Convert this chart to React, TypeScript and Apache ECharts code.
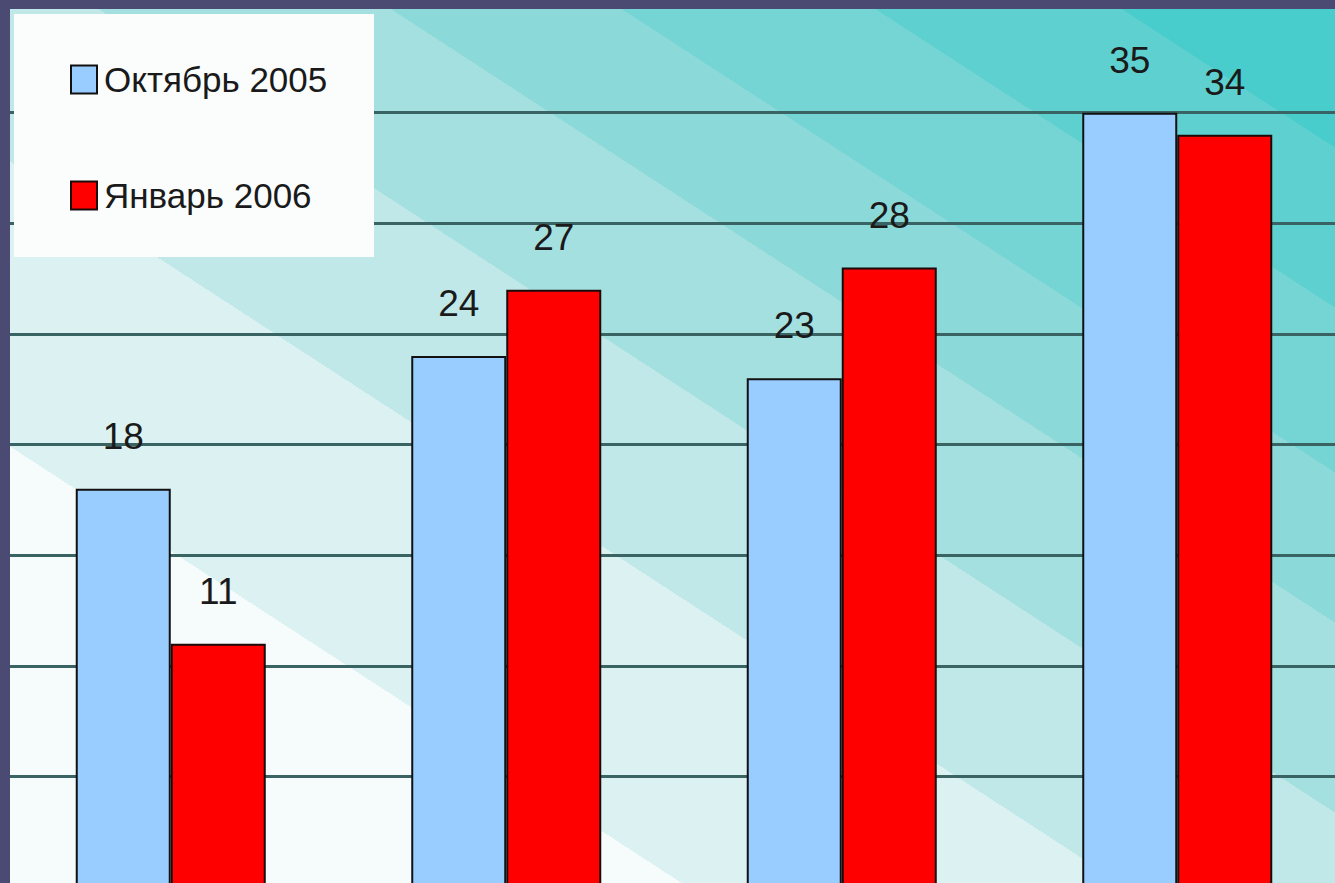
import React, { useEffect, useRef } from "react";
import * as echarts from "echarts";

const categories = ["I", "II", "III", "IV"];
const seriesNames = ["Октябрь 2005", "Январь 2006"];
const oct2005 = [18, 24, 23, 35];
const jan2006 = [11, 27, 28, 34];
const yTicks = { min: 0, max: 40, interval: 5 };

// background stripe bands (c = y - 0.65x boundaries) and colours, white -> teal
const bandBounds = [440, 155, -55, -245, -395, -560, -720];
const bandColors = ["#f6fbfb", "#dcf1f1", "#c0e8e8", "#a5e0e0", "#8bd9d9", "#75d4d4", "#5fd0d0", "#49cccc"];

function buildStops() {
  const c0 = 883;
  const range = 1751;
  const stops: { offset: number; color: string }[] = [];
  stops.push({ offset: 0, color: bandColors[0] });
  bandBounds.forEach((b, i) => {
    const f = (c0 - b) / range;
    stops.push({ offset: f, color: bandColors[i] });
    stops.push({ offset: f, color: bandColors[i + 1] });
  });
  stops.push({ offset: 1, color: bandColors[bandColors.length - 1] });
  return stops;
}

export default function App() {
  const ref = useRef<HTMLDivElement>(null);
  useEffect(() => {
    if (!ref.current) return;
    const chart = echarts.init(ref.current, null, { renderer: "svg" });
    const font = "'Liberation Sans', Arial, sans-serif";
    const labelStyle = {
      show: true,
      position: "top",
      distance: 34,
      fontSize: 37,
      color: "#1a1a1a",
      fontFamily: font,
    };
    chart.setOption({
      animation: false,
      backgroundColor: "#4a4a72",
      graphic: [
        {
          type: "rect",
          z: -10,
          shape: { x: 10, y: 9, width: 1340, height: 881 },
          style: {
            fill: new echarts.graphic.LinearGradient(0, 883, 800, -348, buildStops(), true),
          },
        },
        {
          type: "rect",
          z: 5,
          shape: { x: 14, y: 14, width: 360, height: 243 },
          style: { fill: "#fbfdfd" },
        },
        {
          type: "rect",
          z: 100,
          shape: { x: 0, y: 0, width: 1350, height: 9 },
          style: { fill: "#4a4a72" },
        },
        {
          type: "rect",
          z: 100,
          shape: { x: 0, y: 0, width: 10, height: 890 },
          style: { fill: "#4a4a72" },
        },
      ],
      legend: {
        orient: "vertical",
        left: 70,
        top: 62,
        z: 10,
        icon: "rect",
        itemWidth: 26,
        itemHeight: 28,
        itemGap: 81,
        padding: 0,
        data: seriesNames,
        textStyle: {
          fontSize: 35,
          lineHeight: 28,
          color: "#1a1a1a",
          fontFamily: font,
          padding: [0, 0, 0, 2],
        },
      },
      grid: { left: 3, top: 2, width: 1342, height: 885 },
      xAxis: {
        type: "category",
        data: categories,
        axisLine: { show: false },
        axisTick: { show: false },
        axisLabel: { show: false },
      },
      yAxis: {
        type: "value",
        min: yTicks.min,
        max: yTicks.max,
        interval: yTicks.interval,
        axisLine: { show: false },
        axisTick: { show: false },
        axisLabel: { show: false },
        splitLine: { lineStyle: { color: "#3a6464", width: 3 } },
      },
      series: [
        {
          name: seriesNames[0],
          type: "bar",
          data: oct2005,
          barWidth: 95,
          barGap: "0%",
          itemStyle: { color: "#99ccff", borderColor: "#111111", borderWidth: 2 },
          label: labelStyle,
        },
        {
          name: seriesNames[1],
          type: "bar",
          data: jan2006,
          barWidth: 95,
          barGap: "0%",
          itemStyle: { color: "#ff0000", borderColor: "#1a0a0a", borderWidth: 2 },
          label: labelStyle,
        },
      ],
    });
    return () => chart.dispose();
  }, []);
  return (
    <div
      style={{
        position: "absolute",
        left: 0,
        top: 0,
        width: 1335,
        height: 883,
        overflow: "hidden",
      }}
    >
      <div ref={ref} style={{ width: 1350, height: 890 }} />
    </div>
  );
}
